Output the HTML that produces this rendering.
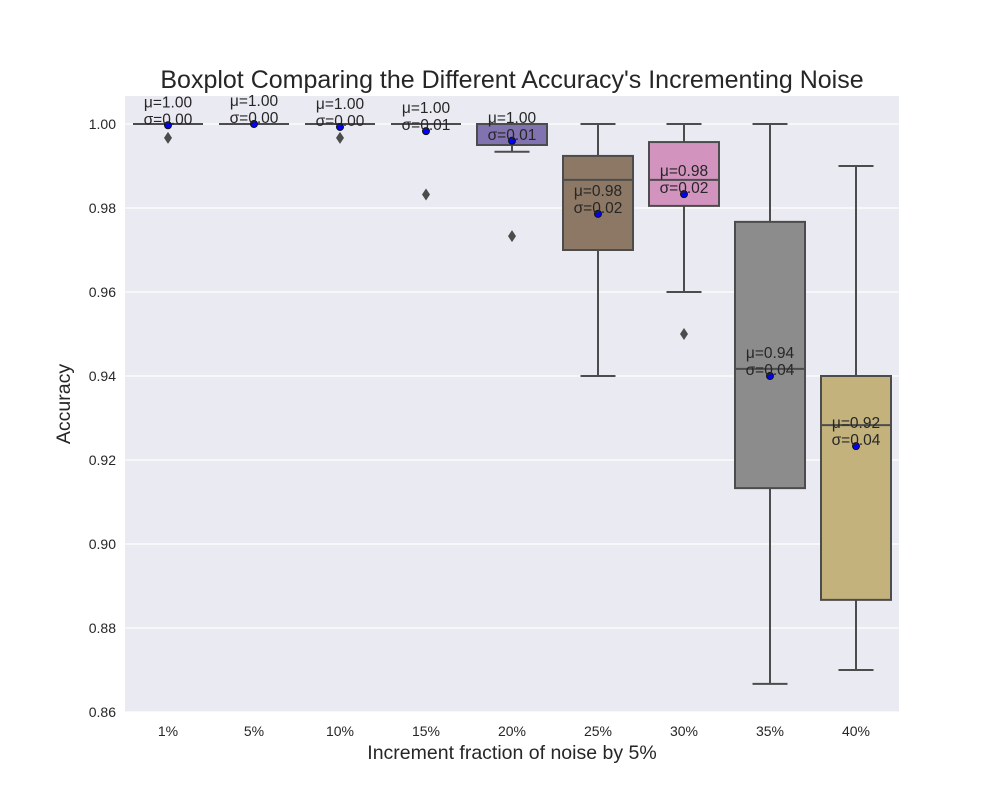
<!DOCTYPE html>
<html><head><meta charset="utf-8"><style>body{margin:0;background:#fff}svg{display:block;font-family:"Liberation Sans",sans-serif}</style></head>
<body>
<svg id="chart" width="1000" height="800">
<rect x="125" y="96" width="774" height="616" fill="#eaeaf2"/>
<g id="grid"></g><g id="boxes"></g><g id="ticks"></g>
<text x="512" y="88" text-anchor="middle" font-size="25" fill="#262626">Boxplot Comparing the Different Accuracy's Incrementing Noise</text>
<text x="512" y="759" text-anchor="middle" font-size="19.5" fill="#262626">Increment fraction of noise by 5%</text>
<text transform="translate(70,404) rotate(-90)" text-anchor="middle" font-size="19.5" fill="#262626">Accuracy</text>
</svg>
<script>
const categories=["1%","5%","10%","15%","20%","25%","30%","35%","40%"];
const q1=[1,1,1,1,0.995,0.97,0.9805,0.9133,0.8867];
const q3=[1,1,1,1,1,0.9924,0.9957,0.9767,0.94];
const medians=[1,1,1,1,1,0.9867,0.9867,0.9417,0.9283];
const whiskLo=[1,1,1,1,0.9934,0.94,0.96,0.8667,0.87];
const whiskHi=[1,1,1,1,1,1,1,1,0.99];
const means=[0.9997,1.0,0.9993,0.9983,0.996,0.9786,0.9833,0.94,0.9233];
const stds=["0.00","0.00","0.00","0.01","0.01","0.02","0.02","0.04","0.04"];
const outliers=[[0.9967],[],[0.9967],[0.9832],[0.9733],[],[0.95],[],[]];
const colors=["#5f74a0","#c98b62","#6b9e71","#b35b5b","#8172b0","#8c7864","#d294be","#8c8c8c","#c4b27c"];
const yTicks=[0.86,0.88,0.90,0.92,0.94,0.96,0.98,1.00];
const NS="http://www.w3.org/2000/svg";
const X0=125,BW=86;
const xc=i=>X0+BW*(i+0.5);
const y=v=>712-(v-0.86)*4200;
function mk(tag,attrs,parent){const e=document.createElementNS(NS,tag);for(const k in attrs)e.setAttribute(k,attrs[k]);parent.appendChild(e);return e;}
const grid=document.getElementById('grid'),boxes=document.getElementById('boxes'),ticks=document.getElementById('ticks');
yTicks.forEach(t=>{
 const l=mk('line',{x1:125,x2:899,y1:y(t),y2:y(t),stroke:'#fff','stroke-width':1.2},grid);
 
 
 const tx=mk('text',{x:116,y:y(t)+5,'text-anchor':'end','font-size':14,fill:'#262626'},ticks);
 tx.textContent=t.toFixed(2);
 
 
});
categories.forEach((c,i)=>{
 const cx=xc(i),w=70,g=mk('g',{},boxes);
 
 
 const st={stroke:'#4c4c4c','stroke-width':2};
 mk('line',Object.assign({x1:cx,x2:cx,y1:y(q1[i]),y2:y(whiskLo[i])},st),g);
 mk('line',Object.assign({x1:cx,x2:cx,y1:y(q3[i]),y2:y(whiskHi[i])},st),g);
 mk('line',Object.assign({x1:cx-17.5,x2:cx+17.5,y1:y(whiskLo[i]),y2:y(whiskLo[i])},st),g);
 mk('line',Object.assign({x1:cx-17.5,x2:cx+17.5,y1:y(whiskHi[i]),y2:y(whiskHi[i])},st),g);
 mk('rect',Object.assign({x:cx-w/2,y:y(q3[i]),width:w,height:Math.max(0,y(q1[i])-y(q3[i])),fill:colors[i]},st),g);
 mk('line',Object.assign({x1:cx-w/2,x2:cx+w/2,y1:y(medians[i]),y2:y(medians[i])},st),g);
 outliers[i].forEach(o=>{
  const d=mk('path',{d:`M${cx},${y(o)-6}L${cx+4},${y(o)}L${cx},${y(o)+6}L${cx-4},${y(o)}Z`,fill:'#4c4c4c'},g);
  
  
 });
 const m=mk('circle',{cx:cx,cy:y(means[i]),r:3.5,fill:'#0000ff',stroke:'#111','stroke-width':1},g);
 
 
 const t1=mk('text',{x:cx,y:y(means[i])-18,'text-anchor':'middle','font-size':15.5,fill:'#262626'},g);
 t1.textContent='μ='+means[i].toFixed(2);
 
 
 const t2=mk('text',{x:cx,y:y(means[i])-1,'text-anchor':'middle','font-size':15.5,fill:'#262626'},g);
 t2.textContent='σ='+stds[i];
 
 
 const xt=mk('text',{x:cx,y:736,'text-anchor':'middle','font-size':14,fill:'#262626'},ticks);
 xt.textContent=c;
 
 
});
</script>
</body></html>
